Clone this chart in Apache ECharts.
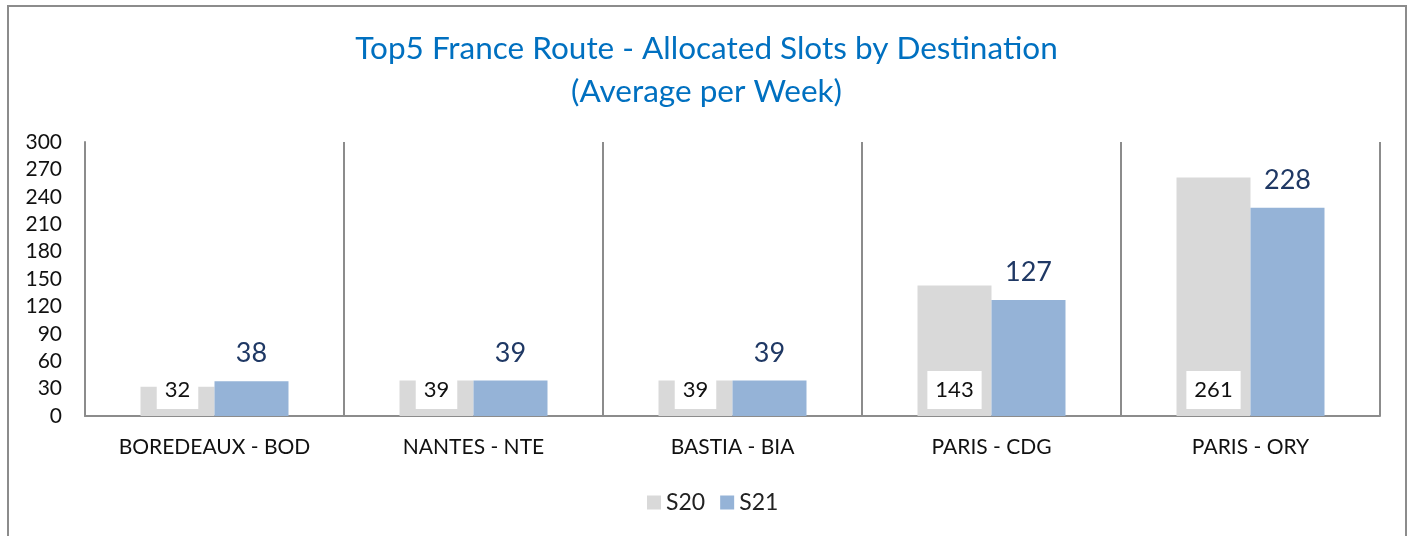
<!DOCTYPE html>
<html>
<head>
<meta charset="utf-8">
<script src="https://cdn.jsdelivr.net/npm/echarts@6/dist/echarts.min.js"></script>
<style>
    html, body { margin: 0; padding: 0; background: #fff; }
    #chart { width: 1413px; height: 536px; }
</style>
</head>
<body>
<div id="chart"></div>
<script>
const destinations = ['BOREDEAUX - BOD', 'NANTES - NTE', 'BASTIA - BIA', 'PARIS - CDG', 'PARIS - ORY'];
const s20 = [32, 39, 39, 143, 261];
const s21 = [38, 39, 39, 127, 228];
const yTicks = [0, 300, 30];

const fontFamily = 'Lato, "Noto Sans", sans-serif';

let chart = echarts.init(document.getElementById('chart'));
let option = {
    animation: false,
    textStyle: { fontFamily },
    title: {
        text: 'Top5 France Route - Allocated Slots by Destination\n(Average per Week)',
        left: 'center',
        top: 22,
        textStyle: {
            color: '#0070C0',
            fontSize: 31.5,
            fontWeight: 'normal',
            lineHeight: 43,
            fontFamily,
        },
    },
    // outer frame
    graphic: [
        {
            type: 'rect',
            shape: { x: 8, y: 6, width: 1398, height: 540 },
            style: { fill: 'none', stroke: '#8c8c8c', lineWidth: 2 },
            silent: true,
        },
    ],
    legend: {
        data: ['S20', 'S21'],
        top: 486,
        left: 642,
        itemWidth: 14,
        itemHeight: 14,
        itemGap: 15,
        icon: 'rect',
        textStyle: { fontSize: 23, color: '#222', fontFamily },
    },
    grid: {
        left: 85,
        right: 33,
        top: 142,
        bottom: 120,
    },
    xAxis: {
        type: 'category',
        data: destinations,
        axisLine: { lineStyle: { color: '#8c8c8c', width: 2 } },
        axisTick: { show: false },
        axisLabel: { fontSize: 21, color: '#111', margin: 21 },
        splitLine: { show: true, lineStyle: { color: '#8c8c8c', width: 2 } },
    },
    yAxis: {
        type: 'value',
        min: yTicks[0],
        max: yTicks[1],
        interval: yTicks[2],
        axisLine: { show: true, lineStyle: { color: '#8c8c8c', width: 2 } },
        axisTick: { show: false },
        splitLine: { show: false },
        axisLabel: { fontSize: 21, color: '#111', margin: 23 },
    },
    series: [
        {
            name: 'S20',
            type: 'bar',
            data: s20,
            barWidth: 74,
            barGap: '0%',
            itemStyle: { color: '#D9D9D9' },
            label: {
                show: true,
                position: 'insideBottom',
                distance: 7,
                backgroundColor: '#fff',
                padding: [8, 8],
                color: '#111',
                fontSize: 22,
            },
        },
        {
            name: 'S21',
            type: 'bar',
            data: s21,
            barWidth: 74,
            itemStyle: { color: '#95B3D7' },
            label: {
                show: true,
                position: 'top',
                distance: 14,
                color: '#1F3864',
                fontSize: 27,
            },
        },
    ],
};
chart.setOption(option);
</script>
</body>
</html>
